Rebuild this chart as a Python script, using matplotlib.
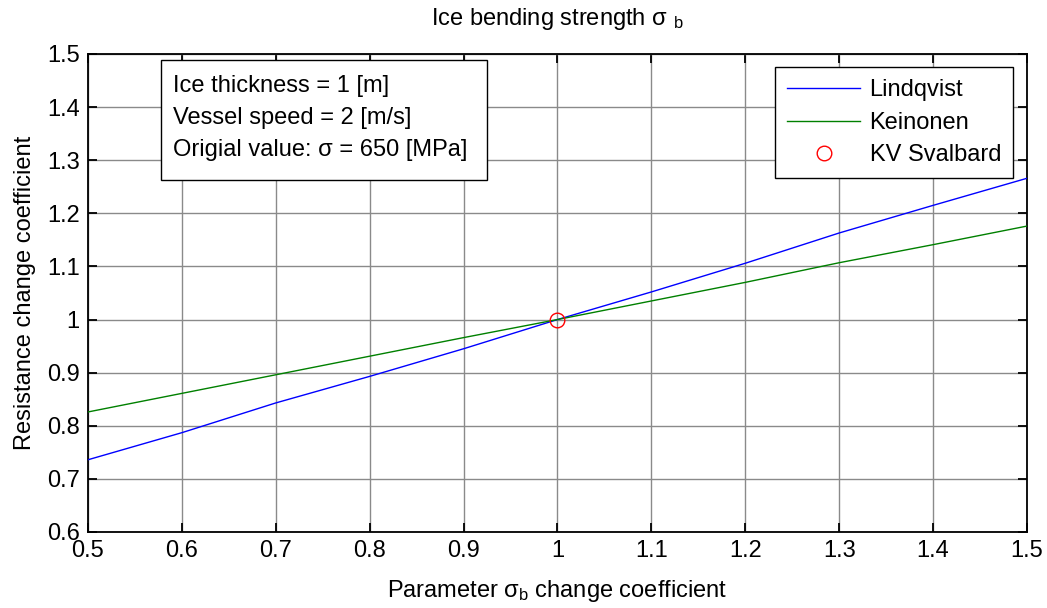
import matplotlib
matplotlib.use("Agg")
import matplotlib.pyplot as plt
from matplotlib.patches import Rectangle
from matplotlib.ticker import FormatStrFormatter, MultipleLocator

plt.rcParams['font.family'] = ['Liberation Sans', 'DejaVu Sans']
plt.rcParams['mathtext.fontset'] = 'custom'
plt.rcParams['mathtext.rm'] = 'Liberation Sans'
plt.rcParams['mathtext.it'] = 'Liberation Sans'
plt.rcParams['mathtext.bf'] = 'Liberation Sans:bold'

# Parameter change coefficient for ice bending strength
sigma_coeff = [0.5, 0.6, 0.7, 0.8, 0.9, 1.0, 1.1, 1.2, 1.3, 1.4, 1.5]
# Relative resistance change for each method
lindqvist = [0.736, 0.787, 0.843, 0.893, 0.945, 1.000, 1.052, 1.106, 1.163, 1.215, 1.266]
keinonen = [0.826, 0.861, 0.896, 0.931, 0.966, 1.000, 1.035, 1.070, 1.107, 1.141, 1.176]
# Reference vessel point
svalbard_x = [1.0]
svalbard_y = [1.0]

info_lines = ["Ice thickness = 1 [m]",
              "Vessel speed = 2 [m/s]",
              "Origial value: \u03c3 = 650 [MPa]"]

fs = 17
fig = plt.figure(figsize=(10.47, 6.08), dpi=100)
ax = fig.add_axes([0.0840, 0.125, 0.8969, 0.7862])

ax.plot(sigma_coeff, lindqvist, color='#0000ff', lw=1.0, label='Lindqvist', zorder=3)
ax.plot(sigma_coeff, keinonen, color='#008000', lw=1.0, label='Keinonen', zorder=3)
ax.plot(svalbard_x, svalbard_y, linestyle='none', marker='o', ms=10.5, mfc='none',
        mec='#ff0000', mew=1.0, label='KV Svalbard', zorder=4)

ax.set_xlim(0.5, 1.5)
ax.set_ylim(0.6, 1.5)
ax.xaxis.set_major_locator(MultipleLocator(0.1))
ax.yaxis.set_major_locator(MultipleLocator(0.1))
ax.xaxis.set_major_formatter(FormatStrFormatter('%g'))
ax.yaxis.set_major_formatter(FormatStrFormatter('%g'))

ax.grid(True, color='#8a8a8a', lw=1.0, linestyle='-')
ax.set_axisbelow(True)
ax.tick_params(direction='in', length=6.5, width=1.3, top=True, right=True,
               labelsize=fs, pad=6, colors='black')
for sp in ax.spines.values():
    sp.set_linewidth(1.3)
    sp.set_color('black')

ax.set_title(r"Ice bending strength $\sigma\ {}_b$", fontsize=fs, pad=21)
ax.set_xlabel(r"Parameter $\sigma_b$ change coefficient", fontsize=fs, labelpad=11)
ax.set_ylabel("Resistance change coefficient", fontsize=fs, labelpad=8)

leg = ax.legend(loc='upper right', bbox_to_anchor=(0.985, 0.972), borderaxespad=0,
                fontsize=fs, fancybox=False, edgecolor='black', framealpha=1,
                handlelength=3.1, handletextpad=0.4, labelspacing=0.45,
                borderpad=0.5)
leg.get_frame().set_linewidth(1.0)

ax.add_patch(Rectangle((0.0781, 0.7364), 0.3472, 0.2510, transform=ax.transAxes,
                       facecolor='white', edgecolor='black', lw=1.0, zorder=5))
for y, line in zip([0.9330, 0.8661, 0.7991], info_lines):
    ax.text(0.0905, y, line, transform=ax.transAxes, fontsize=fs,
            ha='left', va='center', zorder=6)

fig.savefig('out.png', dpi=100)
